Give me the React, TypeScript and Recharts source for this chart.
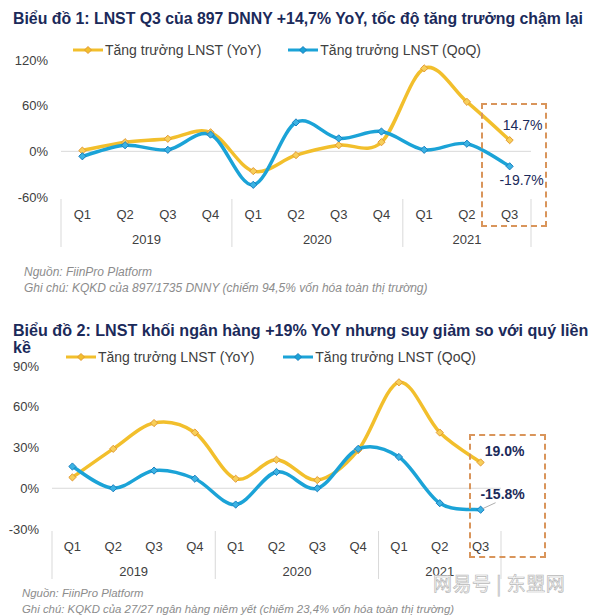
import React from 'react';
import { LineChart, Line, XAxis, YAxis, ReferenceLine, LabelList } from 'recharts';

const quarters = ['Q1', 'Q2', 'Q3', 'Q4', 'Q1', 'Q2', 'Q3', 'Q4', 'Q1', 'Q2', 'Q3'];
const years = ['2019', '2019', '2019', '2019', '2020', '2020', '2020', '2020', '2021', '2021', '2021'];

// Biểu đồ 1: 897 DNNY
const yoy1 = [1, 12, 16.5, 25, -26, -5, 8, 12, 109, 65, 14.7];
const qoq1 = [-6.5, 8, 2, 22, -44, 38, 17, 26, 2, 10, -19.7];
const ticks1 = [-60, 0, 60, 120];

// Biểu đồ 2: khối ngân hàng
const yoy2 = [8, 29, 48, 41, 7, 21, 6, 28, 78, 41, 19.0];
const qoq2 = [16, 0, 13, 7, -12, 12, 0, 29, 23, -11, -15.8];
const ticks2 = [-30, 0, 30, 60, 90];

const YELLOW = '#F2BF2C';
const BLUE = '#1BA3D7';
const NAVY = '#1b2a5a';
const TXT = '#404040';
const FONT = '"Liberation Sans", Arial, sans-serif';

const build = (yoy: number[], qoq: number[]) =>
  quarters.map((q, i) => ({ q, year: years[i], yoy: yoy[i], qoq: qoq[i] }));

const data1 = build(yoy1, qoq1);
const data2 = build(yoy2, qoq2);

// Excel-like smoothed line (Catmull-Rom)
const smooth = (context: any) => {
  let pts: number[][] = [];
  return {
    areaStart() {},
    areaEnd() {},
    lineStart() { pts = []; },
    point(x: number, y: number) { pts.push([+x, +y]); },
    lineEnd() {
      if (!pts.length) return;
      context.moveTo(pts[0][0], pts[0][1]);
      for (let i = 0; i < pts.length - 1; i++) {
        const p0 = pts[Math.max(i - 1, 0)];
        const p1 = pts[i];
        const p2 = pts[i + 1];
        const p3 = pts[Math.min(i + 2, pts.length - 1)];
        context.bezierCurveTo(
          p1[0] + (p2[0] - p0[0]) / 6, p1[1] + (p2[1] - p0[1]) / 6,
          p2[0] - (p3[0] - p1[0]) / 6, p2[1] - (p3[1] - p1[1]) / 6,
          p2[0], p2[1]
        );
      }
    },
  };
};

const diamond = (fill: string, stroke: string) => (props: any) => {
  const { cx, cy, index } = props;
  if (cx == null || cy == null) return <g key={index} />;
  const r = 3.6;
  return (
    <path key={index} d={`M${cx},${cy - r}L${cx + r},${cy}L${cx},${cy + r}L${cx - r},${cy}Z`}
      fill={fill} stroke={stroke} strokeWidth={1} />
  );
};

const QuarterTick = (band: number, sepTop: number, sepBottom: number) => (props: any) => {
  const { x, y, index, payload } = props;
  const yr = years[index];
  const first = index === 0 || years[index - 1] !== yr;
  const last = index === years.length - 1;
  const count = years.filter((v) => v === yr).length;
  return (
    <g>
      <text x={x} y={y + 17} textAnchor="middle" dominantBaseline="central" fill={TXT} fontSize={13} fontFamily={FONT}>{payload.value}</text>
      {first && (
        <>
          <line x1={x - band / 2} x2={x - band / 2} y1={y + sepTop} y2={y + sepBottom} stroke="#d9d9d9" />
          <text x={x + ((count - 1) * band) / 2} y={y + 42} textAnchor="middle" dominantBaseline="central" fill={TXT} fontSize={13} fontFamily={FONT}>{yr}</text>
        </>
      )}
      {last && <line x1={x + band / 2} x2={x + band / 2} y1={y + sepTop} y2={y + sepBottom} stroke="#d9d9d9" />}
    </g>
  );
};

const legendItems = [
  { c: YELLOW, s: '#E39A35', t: 'Tăng trưởng LNST (YoY)' },
  { c: BLUE, s: '#1a7fc0', t: 'Tăng trưởng LNST (QoQ)' },
];

function ChartLegend({ left, top, gap }: { left: number; top: number; gap: number }) {
  return (
    <div style={{ position: 'absolute', left, top, display: 'flex', alignItems: 'center', fontFamily: FONT, fontSize: 14, lineHeight: '16px', color: TXT, whiteSpace: 'nowrap' }}>
      {legendItems.map((it, i) => (
        <span key={i} style={{ display: 'flex', alignItems: 'center', marginRight: i === 0 ? gap : 0 }}>
          <svg width={30} height={10} style={{ marginRight: 2 }}>
            <line x1={0} x2={30} y1={5} y2={5} stroke={it.c} strokeWidth={3} />
            <path d="M15,1.5L18.5,5L15,8.5L11.5,5Z" fill={it.c} stroke={it.s} strokeWidth={1} />
          </svg>
          {it.t}
        </span>
      ))}
    </div>
  );
}

const lastLabel = (text: string, dx: number, dy: number, bold: boolean, leader?: boolean) => (props: any) => {
  const { x, y, index } = props;
  if (index !== quarters.length - 1) return null;
  return (
    <g>
      {leader && <line x1={x + 2} y1={y - 1} x2={x + 15} y2={y - 7} stroke="#999" strokeWidth={0.8} />}
      <text x={x + dx} y={y + dy} textAnchor="middle" dominantBaseline="central" fill={NAVY}
        fontSize={14} fontWeight={bold ? 700 : 400} fontFamily={FONT}>{text}</text>
    </g>
  );
};

type ChartProps = {
  data: any[];
  ticks: number[];
  top: number;
  height: number;
  margin: { top: number; right: number; bottom: number; left: number };
  yWidth: number;
  xHeight: number;
  labels: any[];
};

function Chart({ data, ticks, top, height, margin, yWidth, xHeight, labels }: ChartProps) {
  const plotW = 593 - margin.left - margin.right - yWidth;
  const band = plotW / quarters.length;
  return (
    <div style={{ position: 'absolute', left: 0, top }}>
      <LineChart width={593} height={height} data={data} margin={margin}>
        <XAxis dataKey="q" interval={0} axisLine={false} tickLine={false} tickSize={0} tickMargin={0}
          padding={{ left: band / 2, right: band / 2 }} height={xHeight}
          tick={QuarterTick(band, 2, 50)} />
        <YAxis domain={[ticks[0], ticks[ticks.length - 1]]} ticks={ticks} interval={0} width={yWidth}
          axisLine={false} tickLine={false} tickMargin={7}
          tickFormatter={(v: number) => `${v}%`}
          tick={{ fill: TXT, fontSize: 13, fontFamily: FONT }} />
        <ReferenceLine y={0} stroke="#d9d9d9" strokeWidth={1} />
        <Line dataKey="yoy" type={smooth as any} stroke={YELLOW} strokeWidth={3.5}
          dot={diamond('#F7CF5A', '#E39A35')} activeDot={false} isAnimationActive={false}>
          <LabelList dataKey="yoy" content={labels[0]} />
        </Line>
        <Line dataKey="qoq" type={smooth as any} stroke={BLUE} strokeWidth={3.5}
          dot={diamond('#3bb3e3', '#1a7fc0')} activeDot={false} isAnimationActive={false}>
          <LabelList dataKey="qoq" content={labels[1]} />
        </Line>
      </LineChart>
    </div>
  );
}

const titleStyle: React.CSSProperties = {
  position: 'absolute', left: 13, fontFamily: FONT, fontWeight: 700, color: NAVY,
  whiteSpace: 'nowrap', lineHeight: '17px',
};
const noteStyle: React.CSSProperties = {
  position: 'absolute', fontFamily: FONT, fontStyle: 'italic', color: '#8c8c8c',
  whiteSpace: 'nowrap', lineHeight: '16px',
};
const box: React.CSSProperties = { position: 'absolute', border: '2px dashed #D9955B', boxSizing: 'border-box' };

export default function App() {
  return (
    <div style={{ position: 'absolute', left: 0, top: 0, width: 593, height: 616, background: '#fff', overflow: 'hidden' }}>
      <div style={{ ...titleStyle, top: 10, fontSize: 15.85 }}>Biểu đồ 1: LNST Q3 của 897 DNNY +14,7% YoY, tốc độ tăng trưởng chậm lại</div>
      <ChartLegend left={73} top={42} gap={27} />
      <Chart data={data1} ticks={ticks1} top={0} height={260}
        margin={{ top: 60, right: 62, bottom: 8, left: 0 }} yWidth={61} xHeight={55}
        labels={[lastLabel('14.7%', 13, -15, false), lastLabel('-19.7%', 12, 14, false)]} />
      <div style={{ ...box, left: 481, top: 103, width: 66, height: 124 }} />
      <div style={{ ...noteStyle, left: 24, top: 264, fontSize: 12 }}>
        Nguồn: FiinPro Platform<br />Ghi chú: KQKD của 897/1735 DNNY (chiếm 94,5% vốn hóa toàn thị trường)
      </div>

      <div style={{ ...titleStyle, top: 322, fontSize: 16.1 }}>Biểu đồ 2: LNST khối ngân hàng +19% YoY nhưng suy giảm so với quý liền<br />kề</div>
      <ChartLegend left={66} top={349} gap={29} />
      <Chart data={data2} ticks={ticks2} top={300} height={300}
        margin={{ top: 66, right: 92, bottom: 11, left: 0 }} yWidth={52} xHeight={60}
        labels={[lastLabel('19.0%', 24, -11, true), lastLabel('-15.8%', 22, -16, true, true)]} />
      <div style={{ ...box, left: 469, top: 434, width: 77, height: 124 }} />
      <div style={{ ...noteStyle, left: 22, top: 585, fontSize: 11.4 }}>
        Nguồn: FiinPro Platform<br />Ghi chú: KQKD của 27/27 ngân hàng niêm yết (chiếm 23,4% vốn hóa toàn thị trường)
      </div>
      <div style={{ position: 'absolute', left: 433, top: 573, fontFamily: '"Noto Sans CJK SC", sans-serif', fontSize: 19, lineHeight: '19px', color: '#fff', WebkitTextStroke: '0.7px #b8b8b8', whiteSpace: 'nowrap', letterSpacing: 0.5 }}>
        网易号 | 东盟网
      </div>
    </div>
  );
}
